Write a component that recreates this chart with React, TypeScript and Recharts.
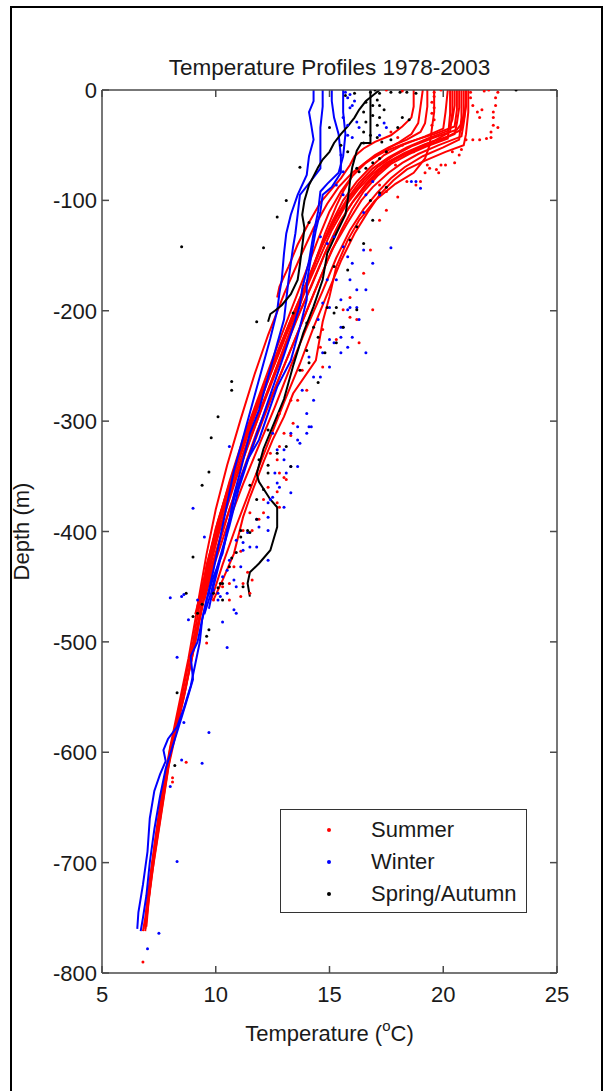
import { ComposedChart, Line, Scatter, XAxis, YAxis } from 'recharts'

type Pt = [number, number] // [temperature °C, depth m]

const xTicks = [5, 10, 15, 20, 25]
const yTicks = [-800, -700, -600, -500, -400, -300, -200, -100, 0]

// summer profiles (lines)
const summer01: Pt[] = [[21.0, 0], [21.0, -15], [20.9, -30], [20.8, -42], [19.8, -50], [18.9, -58], [18.2, -66], [17.6, -75], [16.9, -88], [16.4, -100], [15.8, -120], [15.1, -145], [14.5, -175], [13.9, -205], [13.2, -240], [12.5, -275], [11.8, -310], [11.2, -345], [10.6, -380], [10.1, -415], [9.6, -450], [9.3, -480], [9.0, -510], [8.6, -550], [8.1, -590], [7.8, -630], [7.5, -670], [7.2, -710], [7.0, -740], [6.9, -760]]
const summer02: Pt[] = [[20.4, 0], [20.4, -20], [20.3, -38], [19.6, -46], [18.6, -55], [17.8, -64], [17.2, -74], [16.6, -87], [16.0, -102], [15.4, -122], [14.8, -148], [14.2, -178], [13.5, -210], [12.8, -245], [12.1, -282], [11.4, -318], [10.8, -352], [10.2, -390], [9.8, -425], [9.4, -460], [9.2, -490], [8.9, -520], [8.5, -556], [8.0, -596], [7.7, -636], [7.4, -676], [7.1, -716], [6.9, -750], [6.8, -762]]
const summer03: Pt[] = [[20.8, 0], [20.8, -25], [20.7, -45], [20.0, -52], [19.1, -60], [18.3, -70], [17.7, -80], [17.1, -93], [16.5, -108], [15.9, -127], [15.3, -152], [14.7, -182], [14.0, -215], [13.3, -250], [12.6, -287], [11.9, -322], [11.2, -357], [10.5, -395], [9.9, -432], [9.5, -462]]
const summer04: Pt[] = [[20.2, 0], [20.1, -20], [20.0, -35], [19.2, -42], [18.2, -50], [17.4, -59], [16.8, -70], [16.2, -83], [15.6, -100], [15.1, -120], [14.5, -148], [13.9, -180], [13.2, -215], [12.5, -252], [11.8, -290], [11.1, -330], [10.4, -372], [9.9, -410], [9.4, -450], [9.1, -475]]
const summer05: Pt[] = [[21.1, 0], [21.1, -20], [21.0, -40], [20.9, -50], [20.1, -56], [19.2, -64], [18.4, -72], [17.8, -82], [17.2, -95], [16.7, -110], [16.1, -130], [15.5, -155], [14.9, -185], [14.3, -215], [13.7, -248], [13.0, -283], [12.3, -320], [11.6, -357], [10.9, -395], [10.3, -430], [9.8, -462]]
const summer06: Pt[] = [[19.1, 0], [19.0, -15], [18.9, -30], [18.6, -40], [18.0, -48], [17.3, -56], [16.6, -66], [16.0, -78], [15.5, -92], [15.0, -110], [14.5, -135], [13.9, -168], [13.3, -200], [12.6, -238], [11.9, -277], [11.2, -316], [10.6, -355], [10.1, -392], [9.6, -430], [9.3, -465], [9.0, -500], [8.6, -540], [8.2, -580], [7.8, -620], [7.5, -660], [7.2, -700], [7.0, -735], [6.9, -758]]
const summer07: Pt[] = [[18.7, 0], [18.7, -15], [18.6, -25], [18.2, -33], [17.7, -41], [17.0, -47], [16.5, -53], [16.1, -60], [15.9, -68], [15.5, -80], [15.0, -92], [14.6, -102], [14.1, -120], [13.6, -140], [13.2, -160], [12.8, -178], [12.7, -188]]
const summer08: Pt[] = [[19.3, 0], [19.3, -15], [19.2, -30], [19.0, -38], [18.4, -45], [17.6, -52], [17.0, -59], [16.5, -67], [16.0, -78], [15.6, -92], [15.3, -105], [14.8, -130], [14.3, -160], [13.7, -195], [13.0, -233], [12.3, -272], [11.6, -312], [10.9, -352], [10.3, -390], [9.8, -425], [9.4, -458], [9.2, -470]]
const summer09: Pt[] = [[19.6, 0], [19.6, -20], [19.5, -35], [19.4, -50], [19.2, -62], [18.7, -75], [17.9, -85], [17.0, -100], [16.3, -118], [15.8, -136], [15.3, -160], [15.0, -187], [14.7, -210], [14.4, -245], [13.4, -275], [13.0, -296], [12.5, -317], [12.1, -337], [11.5, -369], [11.2, -387], [10.8, -420], [10.3, -444], [9.9, -462]]
const summer10: Pt[] = [[20.6, 0], [20.6, -18], [20.5, -33], [19.6, -40], [18.5, -47], [17.5, -55], [16.7, -64], [16.0, -75], [15.4, -88], [14.9, -103], [14.3, -125], [13.7, -152], [13.0, -185], [12.3, -222], [11.7, -258], [11.1, -298], [10.5, -340], [10.0, -380], [9.6, -420], [9.3, -455], [9.1, -480], [8.8, -515], [8.4, -555], [8.0, -595], [7.6, -640], [7.3, -685], [7.1, -725], [6.9, -762]]
const summer11: Pt[] = [[20.9, 0], [20.9, -20], [20.8, -36], [20.2, -42], [19.2, -49], [18.3, -57], [17.5, -66], [16.9, -76], [16.3, -89], [15.7, -105], [15.1, -127], [14.5, -155], [13.8, -188], [13.1, -222], [12.4, -258], [11.7, -295], [11.0, -335], [10.4, -372], [9.9, -410], [9.5, -445], [9.2, -472]]
const summer12: Pt[] = [[20.3, 0], [20.3, -22], [20.2, -44], [19.4, -50], [18.5, -58], [17.7, -67], [17.1, -78], [16.5, -92], [16.0, -108], [15.5, -128], [14.9, -155], [14.3, -185], [13.6, -220], [12.9, -255], [12.2, -292], [11.5, -330], [10.8, -368], [10.2, -405], [9.7, -440], [9.3, -475], [9.0, -505], [8.7, -540], [8.3, -578], [7.9, -615], [7.6, -655], [7.3, -695], [7.05, -735], [6.95, -758]]
const summer13: Pt[] = [[21.0, 0], [21.0, -12], [20.9, -28], [20.6, -36], [19.6, -43], [18.6, -51], [17.8, -60], [17.1, -70], [16.5, -82], [15.9, -97], [15.3, -116], [14.7, -140], [14.1, -170], [13.4, -203], [12.7, -238], [12.0, -275], [11.3, -313], [10.7, -350], [10.1, -390], [9.7, -425], [9.4, -455], [9.2, -468]]
const summer14: Pt[] = [[20.7, 0], [20.7, -16], [20.6, -30], [20.5, -40], [19.7, -47], [18.8, -54], [17.9, -62], [17.2, -72], [16.6, -85], [16.1, -99], [15.5, -118], [14.9, -143], [14.3, -172], [13.6, -206], [12.9, -242], [12.2, -279], [11.5, -317], [10.8, -356], [10.2, -395], [9.8, -428], [9.4, -460]]
const summer15: Pt[] = [[20.5, 0], [20.5, -14], [20.4, -27], [20.2, -37], [19.3, -44], [18.4, -52], [17.6, -61], [16.9, -71], [16.3, -84], [15.8, -98], [15.2, -118], [14.6, -144], [14.0, -174], [13.3, -208], [12.6, -244], [11.9, -282], [11.2, -321], [10.6, -358], [10.0, -397], [9.6, -432], [9.3, -466]]

// winter profiles (lines)
const winter01: Pt[] = [[14.3, 0], [14.3, -10], [14.1, -20], [14.2, -32], [14.3, -45], [14.1, -60], [14.0, -77], [13.6, -95], [13.3, -113], [13.1, -130], [13.0, -148], [12.9, -172], [12.8, -184], [12.7, -200], [12.4, -225], [12.0, -255], [11.6, -285], [11.2, -315], [10.8, -345], [10.5, -375], [10.2, -405], [9.9, -435], [9.6, -462], [9.4, -480], [9.3, -500], [9.1, -520], [8.9, -540], [8.6, -560], [8.3, -577], [7.9, -588], [7.7, -598], [7.8, -608], [7.55, -620], [7.3, -635], [7.1, -660], [7.0, -690], [6.8, -720], [6.6, -745], [6.55, -760]]
const winter02: Pt[] = [[14.7, 0], [14.7, -15], [14.6, -34], [14.6, -50], [14.6, -71], [14.2, -82], [13.7, -95], [13.6, -113], [13.5, -130], [13.4, -142], [13.2, -172], [13.1, -190], [13.0, -208], [12.7, -230], [12.3, -260], [11.9, -290], [11.5, -311], [11.1, -344], [10.8, -367], [10.6, -390], [10.3, -420], [9.9, -441], [9.6, -462], [9.4, -480], [9.2, -500], [8.9, -513], [9.0, -534], [8.7, -555], [8.4, -575], [8.1, -595], [7.8, -615], [7.55, -640], [7.3, -670], [7.1, -700], [6.95, -730], [6.8, -750], [6.7, -762]]
const winter03: Pt[] = [[15.1, 0], [15.1, -10], [15.2, -25], [15.4, -40], [15.5, -60], [15.5, -75], [15.1, -88], [14.7, -95], [14.6, -110], [14.4, -127], [14.2, -150], [14.0, -175], [14.0, -190], [13.7, -215], [13.3, -245], [12.7, -269], [12.3, -293], [11.9, -317], [11.4, -335], [11.1, -352], [10.8, -371], [10.4, -408], [10.1, -430], [9.8, -455], [9.5, -475]]
const winter04: Pt[] = [[15.6, 0], [15.6, -20], [15.7, -40], [15.6, -60], [15.4, -75], [14.9, -85], [14.6, -92], [14.5, -110], [14.3, -130], [14.1, -155], [13.8, -180], [13.7, -195], [13.4, -215], [13.0, -240], [12.5, -270], [12.0, -300], [11.5, -330], [11.0, -362], [10.6, -395], [10.2, -425], [9.9, -450], [9.7, -470]]

// spring/autumn profiles (lines)
const spring01: Pt[] = [[17.2, 0], [16.9, -5], [16.6, -10], [16.3, -18], [16.1, -25], [15.8, -33], [15.5, -40], [15.2, -48], [15.0, -56], [14.7, -63], [14.5, -70], [14.3, -78], [14.1, -86], [13.9, -100], [13.8, -113], [13.9, -125], [13.8, -142], [13.7, -158], [13.6, -172], [13.3, -185], [12.9, -195], [12.6, -200], [12.4, -203], [12.3, -210]]
const spring02: Pt[] = [[16.8, 0], [16.8, -10], [16.8, -25], [16.8, -40], [16.8, -48], [16.4, -48], [16.2, -55], [16.0, -70], [15.9, -83], [15.8, -100], [15.7, -113], [15.3, -130], [14.9, -148], [14.7, -172], [14.3, -196], [13.85, -220], [13.4, -250], [13.0, -280], [12.5, -305], [12.1, -325], [11.9, -340], [11.8, -348], [11.9, -355], [12.4, -371], [12.7, -378], [12.7, -396], [12.4, -417], [11.9, -429], [11.5, -437], [11.4, -447], [11.5, -459]]

// single samples and dotted casts
const summerDots: Pt[] = [
  [17.5, 0], [18.2, -1], [19.9, 0], [21.8, -1], [22.0, 0],
  [22.4, -2], [22.3, -7], [22.3, -14], [22.2, -20], [22.2, -25], [22.2, -32], [22.1, -38], [22.1, -43], [21.9, -44], [21.6, -45], [21.3, -45], [21.0, -45], [22.4, -34],
  [21.2, -2], [21.2, -7], [21.3, -14], [21.5, -20], [21.7, -18], [21.6, -25],
  [19.6, -2], [19.6, -6], [19.5, -11], [19.6, -16], [19.5, -21], [19.6, -27], [19.5, -32],
  [17.7, -38], [18.0, -43], [18.2, -50], [18.7, -56], [18.4, -83], [18.8, -86], [19.3, -68], [17.9, -68], [17.2, -86], [17.5, -92],
  [20.5, -66], [19.9, -68], [20.1, -68], [20.4, -56], [20.8, -54], [20.7, -59], [19.8, -75], [19.2, -75], [19.0, -83], [19.4, -71], [19.7, -72],
  [16.8, -145], [17.2, -118], [17.5, -109], [18.0, -97], [16.5, -166], [15.9, -188], [16.9, -199], [16.2, -208], [15.3, -226], [16.3, -229], [14.6, -233], [15.6, -199], [15.9, -206], [14.7, -217],
  [14.7, -251], [13.8, -254], [13.6, -281], [14.0, -272], [13.3, -281], [12.8, -293], [13.4, -302], [13.0, -311], [12.4, -329], [12.7, -335], [12.8, -347], [12.3, -360], [12.7, -374], [12.1, -371], [11.5, -383], [11.2, -399], [12.8, -378],
  [13.3, -313], [12.8, -323], [13.0, -351], [13.1, -353], [12.7, -364], [12.1, -383], [11.9, -389], [11.6, -399], [11.1, -418], [10.8, -432], [11.4, -437], [10.6, -447], [10.3, -450], [11.5, -456], [9.9, -462],
  [9.6, -501], [11.2, -447], [11.6, -444], [11.1, -459], [10.6, -462], [8.7, -609], [8.1, -623], [8.1, -627], [6.8, -790],
]
const winterDots: Pt[] = [
  [15.7, -2], [15.9, -4], [16.1, -10], [15.8, -7], [15.9, -16], [15.6, -25], [16.2, -29], [15.8, -41], [16.0, -43], [15.5, -59], [15.6, -74], [15.3, -86], [16.3, -34], [17.5, -34], [17.2, -41], [17.4, -30],
  [16.9, -83], [16.6, -95], [17.2, -95], [18.8, -83], [19.0, -89], [16.5, -111], [15.6, -95], [15.8, -32], [16.0, -14], [18.6, -83],
  [14.6, -133], [14.9, -139], [15.2, -133], [15.6, -142], [15.8, -151], [16.0, -157], [16.5, -145], [16.9, -157], [17.7, -143], [14.9, -172], [15.3, -172], [15.9, -172], [16.2, -181], [15.5, -190], [16.6, -181], [15.8, -199], [16.3, -208], [15.5, -215], [16.0, -224], [15.0, -226], [15.8, -233], [15.5, -238], [16.6, -238],
  [14.7, -193], [15.0, -197], [15.9, -197], [16.2, -197], [15.6, -215], [15.5, -224], [15.2, -229], [14.5, -208], [14.7, -238], [15.0, -251], [14.1, -242], [14.3, -260], [14.6, -260], [13.8, -272], [14.3, -281], [14.0, -293], [13.6, -305], [14.1, -305], [14.0, -311], [13.3, -311], [13.0, -326], [13.6, -341], [13.1, -347], [12.7, -356], [13.3, -365], [12.4, -371], [13.0, -378], [12.3, -387], [11.9, -396], [11.8, -414], [10.6, -323], [9.0, -379], [9.5, -405], [10.9, -408],
  [14.2, -305], [13.6, -317], [13.7, -320], [12.5, -311], [12.7, -326], [13.0, -335], [13.3, -341], [12.6, -347], [12.8, -360], [12.5, -369], [12.3, -374], [11.8, -389], [12.3, -399], [11.4, -401], [11.5, -414], [11.2, -417], [11.1, -432], [10.6, -426], [10.5, -435], [10.3, -441], [10.8, -444], [10.9, -450], [10.5, -456], [10.2, -459], [10.1, -456], [9.7, -456], [8.6, -457], [8.0, -460],
  [8.5, -459], [8.8, -480], [10.5, -505], [8.3, -514], [9.7, -582], [8.6, -573], [10.8, -471], [10.9, -474], [10.3, -482], [10.1, -462], [9.2, -462], [9.9, -453], [11.2, -410], [12.3, -426],
  [8.5, -607], [9.4, -610], [8.0, -631], [8.3, -699], [7.0, -778], [7.5, -764],
]
const springDots: Pt[] = [
  [16.8, -2], [17.0, 0], [17.2, -3], [17.1, -9], [16.6, -11], [16.9, -14], [17.2, -14], [17.4, -18], [16.5, -20], [16.9, -23], [17.2, -25], [16.6, -29], [17.1, -32], [16.5, -38], [16.8, -41], [17.1, -43], [16.5, -48], [17.3, -47], [17.5, -56], [17.2, -62], [16.9, -66], [16.6, -71], [16.3, -74],
  [18.2, -25], [18.5, -27], [18.0, -34], [17.7, -45], [16.2, -71], [15.8, -56], [15.5, -50], [15.0, -34], [13.7, -70], [17.7, -2], [18.1, -2], [18.4, -2], [18.8, -3], [23.2, 0], [15.7, -5], [16.1, -3],
  [13.1, -100], [12.7, -115], [12.1, -143], [14.1, -120], [16.8, -100], [17.2, -93], [17.5, -88], [16.2, -124], [15.9, -136], [16.5, -139], [16.9, -118], [15.8, -163], [15.2, -160], [16.2, -199], [11.8, -210], [15.2, -202], [15.6, -215], [14.0, -211], [14.8, -238], [15.3, -229], [8.5, -142],
  [13.4, -202], [15.3, -197], [14.9, -197], [14.3, -215], [14.5, -224], [14.0, -236], [13.7, -254], [14.5, -265], [14.1, -247], [10.7, -264], [10.7, -272], [10.1, -296], [9.8, -315], [9.7, -346], [9.4, -358], [13.1, -323], [13.3, -341], [12.7, -329], [12.3, -347], [11.5, -401], [11.8, -389], [11.1, -399],
  [12.3, -308], [11.9, -335], [12.3, -340], [11.5, -358], [12.1, -362], [11.8, -371], [11.4, -399], [11.1, -405], [10.9, -419], [10.6, -432], [10.3, -447], [10.1, -451], [9.9, -456], [9.2, -474], [9.0, -477], [9.4, -466], [11.2, -450],
  [9.6, -495], [9.7, -489], [8.3, -546], [9.0, -423], [8.7, -456], [10.3, -462], [10.2, -447], [10.7, -424], [8.2, -612],
]

const summerLines = [summer01, summer02, summer03, summer04, summer05, summer06, summer07, summer08, summer09, summer10, summer11, summer12, summer13, summer14, summer15]
const winterLines = [winter01, winter02, winter03, winter04]
const springLines = [spring01, spring02]

const legendItems = [
  { label: 'Summer', color: '#ff0000' },
  { label: 'Winter', color: '#0000ff' },
  { label: 'Spring/Autumn', color: '#000000' },
]

const FONT = '"Liberation Sans", Arial, sans-serif'
const AXIS = '#4a4a4a'
const TICK_LEN = 7
const FS = 22

const rows = (pts: Pt[]) => pts.map(([t, d]) => ({ t, d }))

const dotShape = (color: string) => (props: any) => (
  <circle cx={props.cx} cy={props.cy} r={1.5} fill={color} />
)

const BottomTick = ({ x, y, payload }: any) => (
  <g>
    <line x1={x} x2={x} y1={y} y2={y - TICK_LEN} stroke={AXIS} strokeWidth={1.5} />
    <text x={x} y={y + 29} textAnchor="middle" fontFamily={FONT} fontSize={FS} fill="#1a1a1a">
      {payload.value}
    </text>
  </g>
)

const TopTick = ({ x, y }: any) => (
  <line x1={x} x2={x} y1={y} y2={y + TICK_LEN} stroke={AXIS} strokeWidth={1.5} />
)

const LeftTick = ({ x, y, payload }: any) => (
  <g>
    <line x1={x} x2={x + TICK_LEN} y1={y} y2={y} stroke={AXIS} strokeWidth={1.5} />
    <text x={x - 5} y={y + 8} textAnchor="end" fontFamily={FONT} fontSize={FS} fill="#1a1a1a">
      {payload.value}
    </text>
  </g>
)

const RightTick = ({ x, y }: any) => (
  <line x1={x} x2={x - TICK_LEN} y1={y} y2={y} stroke={AXIS} strokeWidth={1.5} />
)

export default function App() {
  return (
    <div style={{ position: 'absolute', left: 0, top: 0, width: 603, height: 1091, background: '#fff' }}>
      <div
        style={{
          position: 'absolute', left: 10, top: 6, width: 593, height: 1085,
          border: '2px solid #000', borderBottom: 'none', boxSizing: 'border-box',
        }}
      />
      <ComposedChart width={603} height={1091} margin={{ top: 89, right: 45, bottom: 0, left: 0 }}>
        <XAxis
          dataKey="t" type="number" domain={[5, 25]} ticks={xTicks} interval={0} allowDataOverflow
          height={118} tickSize={0} tickMargin={0}
          axisLine={{ stroke: AXIS, strokeWidth: 1.5 }} tick={(p: any) => <BottomTick {...p} />}
          label={(p: any) => {
            const vb = p.viewBox
            const cx = vb.x + vb.width / 2
            return (
              <text x={cx} y={vb.y + 68} textAnchor="middle" fontFamily={FONT} fontSize={FS} fill="#1a1a1a">
                Temperature (<tspan fontSize={15} dy={-10}>o</tspan><tspan dy={10}>C)</tspan>
              </text>
            )
          }}
        />
        <XAxis
          xAxisId="top" orientation="top" dataKey="t" type="number" domain={[5, 25]} ticks={xTicks} interval={0} allowDataOverflow
          height={1} tickSize={0} tickMargin={0}
          axisLine={{ stroke: AXIS, strokeWidth: 1.5 }} tick={(p: any) => <TopTick {...p} />}
          label={(p: any) => {
            const vb = p.viewBox
            return (
              <text x={vb.x + vb.width / 2} y={vb.y - 14} textAnchor="middle" fontFamily={FONT} fontSize={22.5} fill="#1a1a1a">
                Temperature Profiles 1978-2003
              </text>
            )
          }}
        />
        <YAxis
          dataKey="d" type="number" domain={[-800, 0]} ticks={yTicks} interval={0} allowDataOverflow
          width={102} tickSize={0} tickMargin={0}
          axisLine={{ stroke: AXIS, strokeWidth: 1.5 }} tick={(p: any) => <LeftTick {...p} />}
          label={(p: any) => {
            const vb = p.viewBox
            const cy = vb.y + vb.height / 2
            return (
              <text x={29} y={cy} transform={`rotate(-90 29 ${cy})`} textAnchor="middle" fontFamily={FONT} fontSize={FS} fill="#1a1a1a">
                Depth (m)
              </text>
            )
          }}
        />
        <YAxis
          yAxisId="right" orientation="right" dataKey="d" type="number" domain={[-800, 0]} ticks={yTicks} interval={0} allowDataOverflow
          width={1} tickSize={0} tickMargin={0}
          axisLine={{ stroke: AXIS, strokeWidth: 1.5 }} tick={(p: any) => <RightTick {...p} />}
        />

        {summerLines.map((p, i) => (
          <Line key={`s${i}`} data={rows(p)} dataKey="d" type="linear" stroke="#ff0000" strokeWidth={2} dot={false} isAnimationActive={false} />
        ))}
        {winterLines.map((p, i) => (
          <Line key={`w${i}`} data={rows(p)} dataKey="d" type="linear" stroke="#0000ff" strokeWidth={2} dot={false} isAnimationActive={false} />
        ))}
        {springLines.map((p, i) => (
          <Line key={`k${i}`} xAxisId="top" yAxisId="right" data={rows(p)} dataKey="d" type="linear" stroke="#000000" strokeWidth={2} dot={false} isAnimationActive={false} />
        ))}

        <Scatter data={rows(summerDots)} dataKey="d" shape={dotShape('#ff0000')} isAnimationActive={false} />
        <Scatter data={rows(winterDots)} dataKey="d" shape={dotShape('#0000ff')} isAnimationActive={false} />
        <Scatter xAxisId="top" yAxisId="right" data={rows(springDots)} dataKey="d" shape={dotShape('#000000')} isAnimationActive={false} />
      </ComposedChart>

      <div
        style={{
          position: 'absolute', left: 280, top: 809, width: 247, height: 104,
          border: '1px solid #333', background: '#fff', boxSizing: 'border-box',
          fontFamily: FONT, fontSize: FS, color: '#1a1a1a',
        }}
      >
        {legendItems.map((it, i) => (
          <div key={it.label} style={{ position: 'absolute', left: 0, top: 4 + i * 32, height: 32, display: 'flex', alignItems: 'center' }}>
            <span style={{ marginLeft: 46, width: 4, height: 4, borderRadius: 2, background: it.color }} />
            <span style={{ marginLeft: 40 }}>{it.label}</span>
          </div>
        ))}
      </div>
    </div>
  )
}
